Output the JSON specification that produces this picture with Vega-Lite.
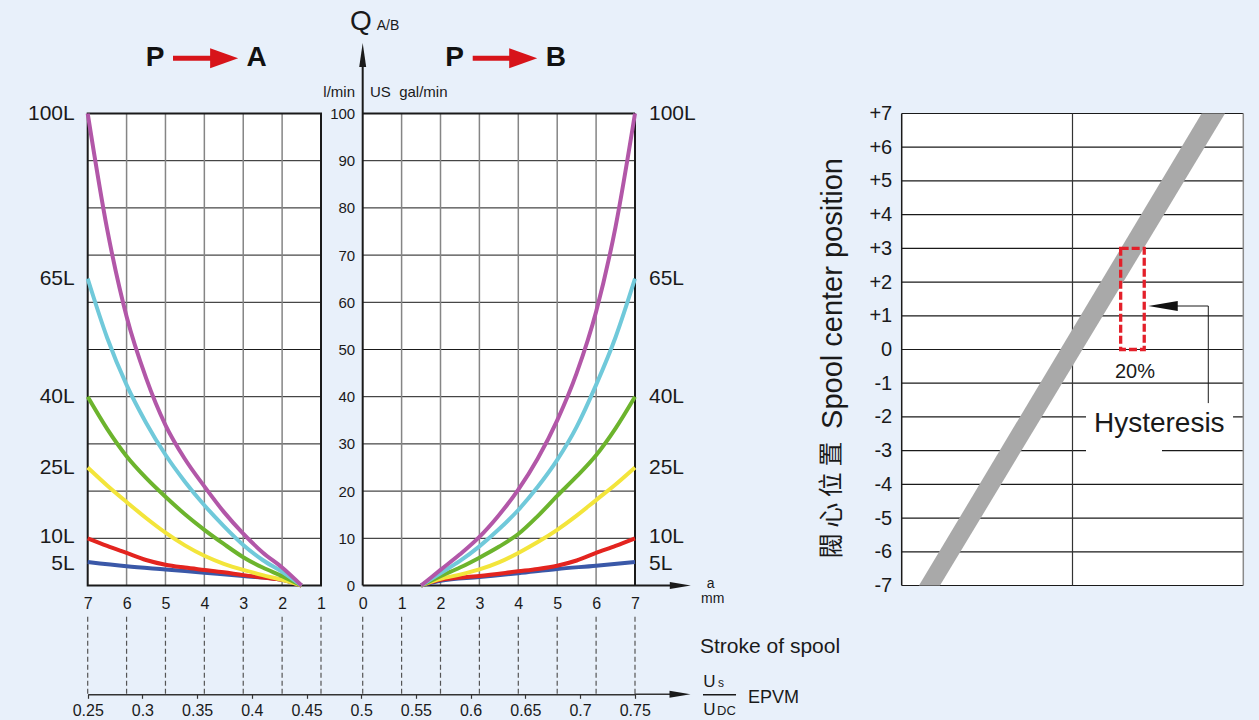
{
"$schema":"https://vega.github.io/schema/vega-lite/v6.json",
"width":1259,"height":720,"autosize":{"type":"none"},"padding":0,
"background":"#e8f0fa",
"config":{"view":{"stroke":null},"text":{"font":"Liberation Sans","color":"#1a1a1a"},"axis":{"labelFont":"Liberation Sans","labelColor":"#1a1a1a"}},
"datasets":{
"curves":[
{"side":"A","series":"5L","s":7,"q":5},{"side":"A","series":"5L","s":6,"q":4.1},{"side":"A","series":"5L","s":5,"q":3.4},{"side":"A","series":"5L","s":4,"q":2.7},{"side":"A","series":"5L","s":3,"q":2},{"side":"A","series":"5L","s":2,"q":1.2},{"side":"A","series":"5L","s":1.5,"q":0},
{"side":"B","series":"5L","s":1.5,"q":0},{"side":"B","series":"5L","s":2,"q":1},{"side":"B","series":"5L","s":3,"q":1.8},{"side":"B","series":"5L","s":4,"q":2.6},{"side":"B","series":"5L","s":5,"q":3.5},{"side":"B","series":"5L","s":6,"q":4.2},{"side":"B","series":"5L","s":7,"q":5},
{"side":"A","series":"10L","s":7,"q":10},{"side":"A","series":"10L","s":6.5,"q":8.4},{"side":"A","series":"10L","s":6,"q":6.9},{"side":"A","series":"10L","s":5.5,"q":5.4},{"side":"A","series":"10L","s":5,"q":4.4},{"side":"A","series":"10L","s":4.5,"q":3.8},{"side":"A","series":"10L","s":4,"q":3.3},{"side":"A","series":"10L","s":3.5,"q":2.8},{"side":"A","series":"10L","s":3,"q":2.2},{"side":"A","series":"10L","s":2.5,"q":1.7},{"side":"A","series":"10L","s":2,"q":1.2},{"side":"A","series":"10L","s":1.5,"q":0},
{"side":"B","series":"10L","s":1.5,"q":0},{"side":"B","series":"10L","s":2,"q":1.2},{"side":"B","series":"10L","s":3,"q":2},{"side":"B","series":"10L","s":4,"q":3},{"side":"B","series":"10L","s":4.5,"q":3.5},{"side":"B","series":"10L","s":5,"q":4.2},{"side":"B","series":"10L","s":5.5,"q":5.3},{"side":"B","series":"10L","s":6,"q":6.9},{"side":"B","series":"10L","s":6.5,"q":8.4},{"side":"B","series":"10L","s":7,"q":10},
{"side":"A","series":"25L","s":7,"q":25},{"side":"A","series":"25L","s":6.5,"q":21.2},{"side":"A","series":"25L","s":6,"q":17.7},{"side":"A","series":"25L","s":5.5,"q":14.3},{"side":"A","series":"25L","s":5,"q":11.2},{"side":"A","series":"25L","s":4.5,"q":8.5},{"side":"A","series":"25L","s":4,"q":6.3},{"side":"A","series":"25L","s":3.5,"q":4.6},{"side":"A","series":"25L","s":3,"q":3.3},{"side":"A","series":"25L","s":2.5,"q":2.2},{"side":"A","series":"25L","s":2,"q":1.2},{"side":"A","series":"25L","s":1.5,"q":0},
{"side":"B","series":"25L","s":1.5,"q":0},{"side":"B","series":"25L","s":2,"q":1.4},{"side":"B","series":"25L","s":2.5,"q":2.3},{"side":"B","series":"25L","s":3,"q":3.4},{"side":"B","series":"25L","s":3.5,"q":4.9},{"side":"B","series":"25L","s":4,"q":6.9},{"side":"B","series":"25L","s":4.5,"q":9.2},{"side":"B","series":"25L","s":5,"q":11.8},{"side":"B","series":"25L","s":5.5,"q":14.8},{"side":"B","series":"25L","s":6,"q":18.1},{"side":"B","series":"25L","s":6.5,"q":21.4},{"side":"B","series":"25L","s":7,"q":25},
{"side":"A","series":"40L","s":7,"q":40},{"side":"A","series":"40L","s":6.5,"q":33.2},{"side":"A","series":"40L","s":6,"q":27.4},{"side":"A","series":"40L","s":5.5,"q":22.8},{"side":"A","series":"40L","s":5,"q":18.8},{"side":"A","series":"40L","s":4.5,"q":15.1},{"side":"A","series":"40L","s":4,"q":11.8},{"side":"A","series":"40L","s":3.5,"q":8.8},{"side":"A","series":"40L","s":3,"q":6},{"side":"A","series":"40L","s":2.5,"q":3.8},{"side":"A","series":"40L","s":2,"q":2},{"side":"A","series":"40L","s":1.5,"q":0},
{"side":"B","series":"40L","s":1.5,"q":0},{"side":"B","series":"40L","s":2,"q":2},{"side":"B","series":"40L","s":2.5,"q":3.8},{"side":"B","series":"40L","s":3,"q":5.9},{"side":"B","series":"40L","s":3.5,"q":8.2},{"side":"B","series":"40L","s":4,"q":10.9},{"side":"B","series":"40L","s":4.5,"q":14.7},{"side":"B","series":"40L","s":5,"q":19},{"side":"B","series":"40L","s":5.5,"q":23.1},{"side":"B","series":"40L","s":6,"q":27.6},{"side":"B","series":"40L","s":6.5,"q":33.3},{"side":"B","series":"40L","s":7,"q":40},
{"side":"A","series":"65L","s":7,"q":65},{"side":"A","series":"65L","s":6.5,"q":52.5},{"side":"A","series":"65L","s":6,"q":42.5},{"side":"A","series":"65L","s":5.5,"q":34.5},{"side":"A","series":"65L","s":5,"q":27.7},{"side":"A","series":"65L","s":4.5,"q":22},{"side":"A","series":"65L","s":4,"q":17},{"side":"A","series":"65L","s":3.5,"q":12.6},{"side":"A","series":"65L","s":3,"q":8.6},{"side":"A","series":"65L","s":2.5,"q":5.4},{"side":"A","series":"65L","s":2,"q":2.9},{"side":"A","series":"65L","s":1.5,"q":0},
{"side":"B","series":"65L","s":1.5,"q":0},{"side":"B","series":"65L","s":2,"q":2.6},{"side":"B","series":"65L","s":2.5,"q":5.2},{"side":"B","series":"65L","s":3,"q":8.3},{"side":"B","series":"65L","s":3.5,"q":11.9},{"side":"B","series":"65L","s":4,"q":16},{"side":"B","series":"65L","s":4.5,"q":20.9},{"side":"B","series":"65L","s":5,"q":26.6},{"side":"B","series":"65L","s":5.5,"q":33.6},{"side":"B","series":"65L","s":6,"q":42.5},{"side":"B","series":"65L","s":6.5,"q":52.6},{"side":"B","series":"65L","s":7,"q":65},
{"side":"A","series":"100L","s":7,"q":100},{"side":"A","series":"100L","s":6.5,"q":75.5},{"side":"A","series":"100L","s":6,"q":57},{"side":"A","series":"100L","s":5.5,"q":44},{"side":"A","series":"100L","s":5,"q":34},{"side":"A","series":"100L","s":4.5,"q":26.8},{"side":"A","series":"100L","s":4,"q":21},{"side":"A","series":"100L","s":3.5,"q":15.6},{"side":"A","series":"100L","s":3,"q":11},{"side":"A","series":"100L","s":2.5,"q":7},{"side":"A","series":"100L","s":2,"q":3.8},{"side":"A","series":"100L","s":1.5,"q":0},
{"side":"B","series":"100L","s":1.5,"q":0},{"side":"B","series":"100L","s":2,"q":3.3},{"side":"B","series":"100L","s":2.5,"q":6.6},{"side":"B","series":"100L","s":3,"q":10.3},{"side":"B","series":"100L","s":3.5,"q":14.9},{"side":"B","series":"100L","s":4,"q":20.3},{"side":"B","series":"100L","s":4.5,"q":26.9},{"side":"B","series":"100L","s":5,"q":35},{"side":"B","series":"100L","s":5.5,"q":45},{"side":"B","series":"100L","s":6,"q":58},{"side":"B","series":"100L","s":6.5,"q":76},{"side":"B","series":"100L","s":7,"q":100}
],
"labels":[{"lab":"100L","q":100},{"lab":"65L","q":65},{"lab":"40L","q":40},{"lab":"25L","q":25},{"lab":"10L","q":10.2},{"lab":"5L","q":4.5}],
"hq":[{"q":10},{"q":20},{"q":30},{"q":40},{"q":50},{"q":60},{"q":70},{"q":80},{"q":90}]
},
"resolve":{"scale":{"x":"independent","y":"independent"}},
"layer":[
{"data":{"values":[{}]},"mark":{"type":"rect","fill":"#ffffff"},"encoding":{"x":{"datum":7,"type":"quantitative","scale":{"domain":[1,7],"range":[321,87.7],"nice":false,"zero":false},"axis":null},"x2":{"datum":1},"y":{"datum":0,"type":"quantitative","scale":{"domain":[0,100],"range":[585.5,113.5],"nice":false,"zero":false},"axis":null},"y2":{"datum":100}}},
{"data":{"name":"hq"},"mark":{"type":"rule","color":"#1a1a1a","strokeWidth":1},"encoding":{"x":{"datum":7,"type":"quantitative","scale":{"domain":[1,7],"range":[321,87.7],"nice":false,"zero":false},"axis":null},"x2":{"datum":1},"y":{"field":"q","type":"quantitative","scale":{"domain":[0,100],"range":[585.5,113.5],"nice":false,"zero":false},"axis":null}}},
{"data":{"values":[{"s":2},{"s":3},{"s":4},{"s":5},{"s":6}]},"mark":{"type":"rule","color":"#858585","strokeWidth":1.5},"encoding":{"x":{"field":"s","type":"quantitative","scale":{"domain":[1,7],"range":[321,87.7],"nice":false,"zero":false},"axis":null},"y":{"datum":0,"type":"quantitative","scale":{"domain":[0,100],"range":[585.5,113.5],"nice":false,"zero":false},"axis":null},"y2":{"datum":100}}},
{"data":{"values":[{}]},"mark":{"type":"rect","filled":false,"stroke":"#1a1a1a","strokeWidth":2},"encoding":{"x":{"datum":7,"type":"quantitative","scale":{"domain":[1,7],"range":[321,87.7],"nice":false,"zero":false},"axis":null},"x2":{"datum":1},"y":{"datum":0,"type":"quantitative","scale":{"domain":[0,100],"range":[585.5,113.5],"nice":false,"zero":false},"axis":null},"y2":{"datum":100}}},
{"data":{"name":"curves"},"transform":[{"filter":"datum.side === 'A'"}],"mark":{"type":"line","strokeWidth":4,"interpolate":"monotone"},"encoding":{"x":{"field":"s","type":"quantitative","scale":{"domain":[1,7],"range":[321,87.7],"nice":false,"zero":false},"axis":null},"y":{"field":"q","type":"quantitative","scale":{"domain":[0,100],"range":[585.5,113.5],"nice":false,"zero":false},"axis":null},"color":{"field":"series","type":"nominal","scale":{"domain":["5L","10L","25L","40L","65L","100L"],"range":["#3a58a8","#e3241f","#f3e53b","#6cb42d","#70c9da","#b257a8"]},"legend":null}}},
{"data":{"name":"labels"},"mark":{"type":"text","align":"right","baseline":"middle","dx":-13,"fontSize":21},"encoding":{"x":{"datum":7,"type":"quantitative","scale":{"domain":[1,7],"range":[321,87.7],"nice":false,"zero":false},"axis":null},"y":{"field":"q","type":"quantitative","scale":{"domain":[0,100],"range":[585.5,113.5],"nice":false,"zero":false},"axis":null},"text":{"field":"lab"}}},
{"data":{"values":[{"s":1},{"s":2},{"s":3},{"s":4},{"s":5},{"s":6},{"s":7}]},"mark":{"type":"rule","color":"#555555","strokeWidth":1.2,"strokeDash":[5,3]},"encoding":{"x":{"field":"s","type":"quantitative","scale":{"domain":[1,7],"range":[321,87.7],"nice":false,"zero":false},"axis":{"orient":"bottom","offset":-134.5,"values":[7,6,5,4,3,2,1],"domain":false,"ticks":false,"grid":false,"labelPadding":10,"labelFontSize":16,"labelFlush":false,"labelOverlap":false,"title":null}},"y":{"datum":-6.6,"type":"quantitative","scale":{"domain":[0,100],"range":[585.5,113.5],"nice":false,"zero":false},"axis":null},"y2":{"datum":-23.05}}},
{"data":{"values":[{}]},"mark":{"type":"text","text":"P","fontSize":28,"fontWeight":"bold","align":"center","baseline":"alphabetic","color":"#111111"},"encoding":{"x":{"datum":5.269,"type":"quantitative","scale":{"domain":[1,7],"range":[321,87.7],"nice":false,"zero":false},"axis":null},"y":{"datum":110.1,"type":"quantitative","scale":{"domain":[0,100],"range":[585.5,113.5],"nice":false,"zero":false},"axis":null}}},
{"data":{"values":[{}]},"mark":{"type":"text","text":"A","fontSize":28,"fontWeight":"bold","align":"center","baseline":"alphabetic","color":"#111111"},"encoding":{"x":{"datum":2.654,"type":"quantitative","scale":{"domain":[1,7],"range":[321,87.7],"nice":false,"zero":false},"axis":null},"y":{"datum":110.1,"type":"quantitative","scale":{"domain":[0,100],"range":[585.5,113.5],"nice":false,"zero":false},"axis":null}}},
{"data":{"values":[{}]},"mark":{"type":"rule","color":"#d7141a","strokeWidth":5},"encoding":{"x":{"datum":4.806,"type":"quantitative","scale":{"domain":[1,7],"range":[321,87.7],"nice":false,"zero":false},"axis":null},"x2":{"datum":3.726},"y":{"datum":111.7,"type":"quantitative","scale":{"domain":[0,100],"range":[585.5,113.5],"nice":false,"zero":false},"axis":null}}},
{"data":{"values":[{}]},"mark":{"type":"point","shape":"M-1,-0.714L1,0L-1,0.714Z","size":784,"filled":true,"color":"#d7141a","opacity":1,"strokeWidth":0},"encoding":{"x":{"datum":3.491,"type":"quantitative","scale":{"domain":[1,7],"range":[321,87.7],"nice":false,"zero":false},"axis":null},"y":{"datum":111.7,"type":"quantitative","scale":{"domain":[0,100],"range":[585.5,113.5],"nice":false,"zero":false},"axis":null}}},

{"data":{"values":[{}]},"mark":{"type":"rect","fill":"#ffffff"},"encoding":{"x":{"datum":0,"type":"quantitative","scale":{"domain":[0,7],"range":[362.7,635],"nice":false,"zero":false},"axis":null},"x2":{"datum":7},"y":{"datum":0,"type":"quantitative","scale":{"domain":[0,100],"range":[585.5,113.5],"nice":false,"zero":false},"axis":null},"y2":{"datum":100}}},
{"data":{"name":"hq"},"mark":{"type":"rule","color":"#1a1a1a","strokeWidth":1},"encoding":{"x":{"datum":0,"type":"quantitative","scale":{"domain":[0,7],"range":[362.7,635],"nice":false,"zero":false},"axis":null},"x2":{"datum":7},"y":{"field":"q","type":"quantitative","scale":{"domain":[0,100],"range":[585.5,113.5],"nice":false,"zero":false},"axis":{"orient":"left","offset":-362.7,"values":[0,10,20,30,40,50,60,70,80,90,100],"domain":false,"ticks":false,"grid":false,"labelPadding":8,"labelFontSize":15,"title":null}}}},
{"data":{"values":[{"s":1},{"s":2},{"s":3},{"s":4},{"s":5},{"s":6}]},"mark":{"type":"rule","color":"#858585","strokeWidth":1.5},"encoding":{"x":{"field":"s","type":"quantitative","scale":{"domain":[0,7],"range":[362.7,635],"nice":false,"zero":false},"axis":null},"y":{"datum":0,"type":"quantitative","scale":{"domain":[0,100],"range":[585.5,113.5],"nice":false,"zero":false},"axis":null},"y2":{"datum":100}}},
{"data":{"values":[{}]},"mark":{"type":"rule","color":"#1a1a1a","strokeWidth":2},"encoding":{"x":{"datum":0,"type":"quantitative","scale":{"domain":[0,7],"range":[362.7,635],"nice":false,"zero":false},"axis":null},"x2":{"datum":7},"y":{"datum":100,"type":"quantitative","scale":{"domain":[0,100],"range":[585.5,113.5],"nice":false,"zero":false},"axis":null}}},
{"data":{"values":[{}]},"mark":{"type":"rule","color":"#1a1a1a","strokeWidth":2},"encoding":{"x":{"datum":7,"type":"quantitative","scale":{"domain":[0,7],"range":[362.7,635],"nice":false,"zero":false},"axis":null},"y":{"datum":0,"type":"quantitative","scale":{"domain":[0,100],"range":[585.5,113.5],"nice":false,"zero":false},"axis":null},"y2":{"datum":100}}},
{"data":{"values":[{}]},"mark":{"type":"rule","color":"#1a1a1a","strokeWidth":2},"encoding":{"x":{"datum":0,"type":"quantitative","scale":{"domain":[0,7],"range":[362.7,635],"nice":false,"zero":false},"axis":null},"x2":{"datum":7.9},"y":{"datum":0,"type":"quantitative","scale":{"domain":[0,100],"range":[585.5,113.5],"nice":false,"zero":false},"axis":null}}},
{"data":{"values":[{}]},"mark":{"type":"rule","color":"#1a1a1a","strokeWidth":2},"encoding":{"x":{"datum":0,"type":"quantitative","scale":{"domain":[0,7],"range":[362.7,635],"nice":false,"zero":false},"axis":null},"y":{"datum":0,"type":"quantitative","scale":{"domain":[0,100],"range":[585.5,113.5],"nice":false,"zero":false},"axis":null},"y2":{"datum":110}}},
{"data":{"values":[{}]},"mark":{"type":"point","shape":"M-1,-0.33L1,0L-1,0.33Z","size":441,"filled":true,"color":"#1a1a1a","opacity":1,"strokeWidth":0},"encoding":{"x":{"datum":8.165,"type":"quantitative","scale":{"domain":[0,7],"range":[362.7,635],"nice":false,"zero":false},"axis":null},"y":{"datum":0,"type":"quantitative","scale":{"domain":[0,100],"range":[585.5,113.5],"nice":false,"zero":false},"axis":null}}},
{"data":{"values":[{}]},"mark":{"type":"point","shape":"M-0.29,1L0,-1L0.29,1Z","size":576,"filled":true,"color":"#1a1a1a","opacity":1,"strokeWidth":0},"encoding":{"x":{"datum":0,"type":"quantitative","scale":{"domain":[0,7],"range":[362.7,635],"nice":false,"zero":false},"axis":null},"y":{"datum":112.4,"type":"quantitative","scale":{"domain":[0,100],"range":[585.5,113.5],"nice":false,"zero":false},"axis":null}}},
{"data":{"name":"curves"},"transform":[{"filter":"datum.side === 'B'"}],"mark":{"type":"line","strokeWidth":4,"interpolate":"monotone"},"encoding":{"x":{"field":"s","type":"quantitative","scale":{"domain":[0,7],"range":[362.7,635],"nice":false,"zero":false},"axis":null},"y":{"field":"q","type":"quantitative","scale":{"domain":[0,100],"range":[585.5,113.5],"nice":false,"zero":false},"axis":null},"color":{"field":"series","type":"nominal","scale":{"domain":["5L","10L","25L","40L","65L","100L"],"range":["#3a58a8","#e3241f","#f3e53b","#6cb42d","#70c9da","#b257a8"]},"legend":null}}},
{"data":{"name":"labels"},"mark":{"type":"text","align":"left","baseline":"middle","dx":14,"fontSize":21},"encoding":{"x":{"datum":7,"type":"quantitative","scale":{"domain":[0,7],"range":[362.7,635],"nice":false,"zero":false},"axis":null},"y":{"field":"q","type":"quantitative","scale":{"domain":[0,100],"range":[585.5,113.5],"nice":false,"zero":false},"axis":null},"text":{"field":"lab"}}},
{"data":{"values":[{"s":0},{"s":1},{"s":2},{"s":3},{"s":4},{"s":5},{"s":6},{"s":7}]},"mark":{"type":"rule","color":"#555555","strokeWidth":1.2,"strokeDash":[5,3]},"encoding":{"x":{"field":"s","type":"quantitative","scale":{"domain":[0,7],"range":[362.7,635],"nice":false,"zero":false},"axis":{"orient":"bottom","offset":-134.5,"values":[0,1,2,3,4,5,6,7],"domain":false,"ticks":false,"grid":false,"labelPadding":10,"labelFontSize":16,"labelFlush":false,"labelOverlap":false,"title":null}},"y":{"datum":-6.6,"type":"quantitative","scale":{"domain":[0,100],"range":[585.5,113.5],"nice":false,"zero":false},"axis":null},"y2":{"datum":-23.05}}},
{"data":{"values":[{}]},"mark":{"type":"text","text":"P","fontSize":28,"fontWeight":"bold","align":"center","baseline":"alphabetic","color":"#111111"},"encoding":{"x":{"datum":2.365,"type":"quantitative","scale":{"domain":[0,7],"range":[362.7,635],"nice":false,"zero":false},"axis":null},"y":{"datum":110.1,"type":"quantitative","scale":{"domain":[0,100],"range":[585.5,113.5],"nice":false,"zero":false},"axis":null}}},
{"data":{"values":[{}]},"mark":{"type":"text","text":"B","fontSize":28,"fontWeight":"bold","align":"center","baseline":"alphabetic","color":"#111111"},"encoding":{"x":{"datum":4.964,"type":"quantitative","scale":{"domain":[0,7],"range":[362.7,635],"nice":false,"zero":false},"axis":null},"y":{"datum":110.1,"type":"quantitative","scale":{"domain":[0,100],"range":[585.5,113.5],"nice":false,"zero":false},"axis":null}}},
{"data":{"values":[{}]},"mark":{"type":"rule","color":"#d7141a","strokeWidth":5},"encoding":{"x":{"datum":2.828,"type":"quantitative","scale":{"domain":[0,7],"range":[362.7,635],"nice":false,"zero":false},"axis":null},"x2":{"datum":3.915},"y":{"datum":111.7,"type":"quantitative","scale":{"domain":[0,100],"range":[585.5,113.5],"nice":false,"zero":false},"axis":null}}},
{"data":{"values":[{}]},"mark":{"type":"point","shape":"M-1,-0.714L1,0L-1,0.714Z","size":784,"filled":true,"color":"#d7141a","opacity":1,"strokeWidth":0},"encoding":{"x":{"datum":4.126,"type":"quantitative","scale":{"domain":[0,7],"range":[362.7,635],"nice":false,"zero":false},"axis":null},"y":{"datum":111.7,"type":"quantitative","scale":{"domain":[0,100],"range":[585.5,113.5],"nice":false,"zero":false},"axis":null}}},
{"data":{"values":[{}]},"mark":{"type":"text","text":"Q","fontSize":28,"align":"center","baseline":"alphabetic"},"encoding":{"x":{"datum":-0.044,"type":"quantitative","scale":{"domain":[0,7],"range":[362.7,635],"nice":false,"zero":false},"axis":null},"y":{"datum":117.7,"type":"quantitative","scale":{"domain":[0,100],"range":[585.5,113.5],"nice":false,"zero":false},"axis":null}}},
{"data":{"values":[{}]},"mark":{"type":"text","text":"A/B","fontSize":14,"align":"left","baseline":"alphabetic"},"encoding":{"x":{"datum":0.36,"type":"quantitative","scale":{"domain":[0,7],"range":[362.7,635],"nice":false,"zero":false},"axis":null},"y":{"datum":117.7,"type":"quantitative","scale":{"domain":[0,100],"range":[585.5,113.5],"nice":false,"zero":false},"axis":null}}},
{"data":{"values":[{}]},"mark":{"type":"text","text":"l/min","fontSize":15,"align":"right","baseline":"alphabetic"},"encoding":{"x":{"datum":-0.198,"type":"quantitative","scale":{"domain":[0,7],"range":[362.7,635],"nice":false,"zero":false},"axis":null},"y":{"datum":103.6,"type":"quantitative","scale":{"domain":[0,100],"range":[585.5,113.5],"nice":false,"zero":false},"axis":null}}},
{"data":{"values":[{}]},"mark":{"type":"text","text":"US\u00a0\u00a0gal/min","fontSize":15,"align":"left","baseline":"alphabetic"},"encoding":{"x":{"datum":0.188,"type":"quantitative","scale":{"domain":[0,7],"range":[362.7,635],"nice":false,"zero":false},"axis":null},"y":{"datum":103.6,"type":"quantitative","scale":{"domain":[0,100],"range":[585.5,113.5],"nice":false,"zero":false},"axis":null}}},
{"data":{"values":[{}]},"mark":{"type":"text","text":"a","fontSize":14,"align":"center","baseline":"alphabetic"},"encoding":{"x":{"datum":8.946,"type":"quantitative","scale":{"domain":[0,7],"range":[362.7,635],"nice":false,"zero":false},"axis":null},"y":{"datum":-0.59,"type":"quantitative","scale":{"domain":[0,100],"range":[585.5,113.5],"nice":false,"zero":false},"axis":null}}},
{"data":{"values":[{}]},"mark":{"type":"text","text":"mm","fontSize":14,"align":"center","baseline":"alphabetic"},"encoding":{"x":{"datum":8.997,"type":"quantitative","scale":{"domain":[0,7],"range":[362.7,635],"nice":false,"zero":false},"axis":null},"y":{"datum":-3.77,"type":"quantitative","scale":{"domain":[0,100],"range":[585.5,113.5],"nice":false,"zero":false},"axis":null}}},
{"data":{"values":[{}]},"mark":{"type":"text","text":"Stroke of spool","fontSize":21,"align":"left","baseline":"alphabetic"},"encoding":{"x":{"datum":8.671,"type":"quantitative","scale":{"domain":[0,7],"range":[362.7,635],"nice":false,"zero":false},"axis":null},"y":{"datum":-14.36,"type":"quantitative","scale":{"domain":[0,100],"range":[585.5,113.5],"nice":false,"zero":false},"axis":null}}},
{"data":{"values":[{}]},"mark":{"type":"text","text":"U","fontSize":17,"align":"left","baseline":"alphabetic"},"encoding":{"x":{"datum":8.756,"type":"quantitative","scale":{"domain":[0,7],"range":[362.7,635],"nice":false,"zero":false},"axis":null},"y":{"datum":-21.44,"type":"quantitative","scale":{"domain":[0,100],"range":[585.5,113.5],"nice":false,"zero":false},"axis":null}}},
{"data":{"values":[{}]},"mark":{"type":"text","text":"s","fontSize":12,"align":"left","baseline":"alphabetic"},"encoding":{"x":{"datum":9.134,"type":"quantitative","scale":{"domain":[0,7],"range":[362.7,635],"nice":false,"zero":false},"axis":null},"y":{"datum":-21.5,"type":"quantitative","scale":{"domain":[0,100],"range":[585.5,113.5],"nice":false,"zero":false},"axis":null}}},
{"data":{"values":[{}]},"mark":{"type":"text","text":"U","fontSize":17,"align":"left","baseline":"alphabetic"},"encoding":{"x":{"datum":8.756,"type":"quantitative","scale":{"domain":[0,7],"range":[362.7,635],"nice":false,"zero":false},"axis":null},"y":{"datum":-27.44,"type":"quantitative","scale":{"domain":[0,100],"range":[585.5,113.5],"nice":false,"zero":false},"axis":null}}},
{"data":{"values":[{}]},"mark":{"type":"text","text":"DC","fontSize":13,"align":"left","baseline":"alphabetic"},"encoding":{"x":{"datum":9.108,"type":"quantitative","scale":{"domain":[0,7],"range":[362.7,635],"nice":false,"zero":false},"axis":null},"y":{"datum":-27.44,"type":"quantitative","scale":{"domain":[0,100],"range":[585.5,113.5],"nice":false,"zero":false},"axis":null}}},
{"data":{"values":[{}]},"mark":{"type":"rule","color":"#1a1a1a","strokeWidth":1.5},"encoding":{"x":{"datum":8.748,"type":"quantitative","scale":{"domain":[0,7],"range":[362.7,635],"nice":false,"zero":false},"axis":null},"x2":{"datum":9.597},"y":{"datum":-23.14,"type":"quantitative","scale":{"domain":[0,100],"range":[585.5,113.5],"nice":false,"zero":false},"axis":null}}},
{"data":{"values":[{}]},"mark":{"type":"text","text":"EPVM","fontSize":18,"align":"left","baseline":"alphabetic"},"encoding":{"x":{"datum":9.905,"type":"quantitative","scale":{"domain":[0,7],"range":[362.7,635],"nice":false,"zero":false},"axis":null},"y":{"datum":-24.96,"type":"quantitative","scale":{"domain":[0,100],"range":[585.5,113.5],"nice":false,"zero":false},"axis":null}}},

{"data":{"values":[{}]},"mark":{"type":"rule","color":"#333333","strokeWidth":1.5},"encoding":{"x":{"datum":0.75,"type":"quantitative","scale":{"domain":[0.25,0.75],"range":[87.7,634.7],"nice":false,"zero":false},"axis":{"orient":"bottom","offset":-25.7,"values":[0.25,0.3,0.35,0.4,0.45,0.5,0.55,0.6,0.65,0.7,0.75],"format":".2~f","domain":true,"domainColor":"#333333","domainWidth":1.5,"ticks":true,"tickSize":4,"tickColor":"#333333","tickWidth":1.2,"grid":false,"labelPadding":4,"labelFontSize":16,"labelFlush":false,"labelOverlap":false,"title":null}},"x2":{"datum":0.79},"y":{"datum":-23.05,"type":"quantitative","scale":{"domain":[0,100],"range":[585.5,113.5],"nice":false,"zero":false},"axis":null}}},
{"data":{"values":[{}]},"mark":{"type":"point","shape":"M-1,-0.33L1,0L-1,0.33Z","size":441,"filled":true,"color":"#1a1a1a","opacity":1,"strokeWidth":0},"encoding":{"x":{"datum":0.7914,"type":"quantitative","scale":{"domain":[0.25,0.75],"range":[87.7,634.7],"nice":false,"zero":false},"axis":null},"y":{"datum":-23.05,"type":"quantitative","scale":{"domain":[0,100],"range":[585.5,113.5],"nice":false,"zero":false},"axis":null}}},

{"data":{"values":[{}]},"mark":{"type":"rect","fill":"#ffffff"},"encoding":{"x":{"datum":-100,"type":"quantitative","scale":{"domain":[-100,100],"range":[901.7,1243.3],"nice":false,"zero":false},"axis":null},"x2":{"datum":100},"y":{"datum":-7,"type":"quantitative","scale":{"domain":[-7,7],"range":[585.5,113.5],"nice":false,"zero":false},"axis":null},"y2":{"datum":7}}},
{"data":{"values":[{"v":-7},{"v":-6},{"v":-5},{"v":-4},{"v":-3},{"v":-2},{"v":-1},{"v":0},{"v":1},{"v":2},{"v":3},{"v":4},{"v":5},{"v":6},{"v":7}]},"mark":{"type":"rule","color":"#1a1a1a","strokeWidth":1.2},"encoding":{"x":{"datum":-100,"type":"quantitative","scale":{"domain":[-100,100],"range":[901.7,1243.3],"nice":false,"zero":false},"axis":null},"x2":{"datum":100},"y":{"field":"v","type":"quantitative","scale":{"domain":[-7,7],"range":[585.5,113.5],"nice":false,"zero":false},"axis":{"orient":"left","offset":-901.7,"values":[-7,-6,-5,-4,-3,-2,-1,0,1,2,3,4,5,6,7],"labelExpr":"datum.value > 0 ? '+' + datum.value : '' + datum.value","domain":false,"ticks":false,"grid":false,"labelPadding":10,"labelFontSize":20,"title":null}}}},
{"data":{"values":[{}]},"mark":{"type":"rule","color":"#1a1a1a","strokeWidth":1.5},"encoding":{"x":{"datum":-100,"type":"quantitative","scale":{"domain":[-100,100],"range":[901.7,1243.3],"nice":false,"zero":false},"axis":null},"y":{"datum":-7,"type":"quantitative","scale":{"domain":[-7,7],"range":[585.5,113.5],"nice":false,"zero":false},"axis":null},"y2":{"datum":7}}},
{"data":{"values":[{}]},"mark":{"type":"rule","color":"#333333","strokeWidth":1.2},"encoding":{"x":{"datum":0,"type":"quantitative","scale":{"domain":[-100,100],"range":[901.7,1243.3],"nice":false,"zero":false},"axis":null},"y":{"datum":-7,"type":"quantitative","scale":{"domain":[-7,7],"range":[585.5,113.5],"nice":false,"zero":false},"axis":null},"y2":{"datum":7}}},
{"data":{"values":[{}]},"mark":{"type":"rule","color":"#8a8a8a","strokeWidth":1.5},"encoding":{"x":{"datum":100,"type":"quantitative","scale":{"domain":[-100,100],"range":[901.7,1243.3],"nice":false,"zero":false},"axis":null},"y":{"datum":-7,"type":"quantitative","scale":{"domain":[-7,7],"range":[585.5,113.5],"nice":false,"zero":false},"axis":null},"y2":{"datum":7}}},
{"data":{"values":[{"pos":-7,"lo":-89.9,"hi":-77.6},{"pos":7,"lo":75.6,"hi":89.3}]},"mark":{"type":"area","orient":"horizontal","color":"#a9a9a9","opacity":1},"encoding":{"y":{"field":"pos","type":"quantitative","scale":{"domain":[-7,7],"range":[585.5,113.5],"nice":false,"zero":false},"axis":null},"x":{"field":"lo","type":"quantitative","scale":{"domain":[-100,100],"range":[901.7,1243.3],"nice":false,"zero":false},"axis":null},"x2":{"field":"hi"}}},
{"data":{"values":[{}]},"mark":{"type":"rect","fill":"#ffffff"},"encoding":{"x":{"datum":7.9,"type":"quantitative","scale":{"domain":[-100,100],"range":[901.7,1243.3],"nice":false,"zero":false},"axis":null},"x2":{"datum":94},"y":{"datum":-1.6,"type":"quantitative","scale":{"domain":[-7,7],"range":[585.5,113.5],"nice":false,"zero":false},"axis":null},"y2":{"datum":-2.68}}},
{"data":{"values":[{}]},"mark":{"type":"rect","fill":"#ffffff"},"encoding":{"x":{"datum":7.9,"type":"quantitative","scale":{"domain":[-100,100],"range":[901.7,1243.3],"nice":false,"zero":false},"axis":null},"x2":{"datum":52.4},"y":{"datum":-2.6,"type":"quantitative","scale":{"domain":[-7,7],"range":[585.5,113.5],"nice":false,"zero":false},"axis":null},"y2":{"datum":-3.16}}},
{"data":{"values":[{}]},"mark":{"type":"rect","filled":false,"stroke":"#e3202a","strokeWidth":3.3,"strokeDash":[8,3]},"encoding":{"x":{"datum":28.2,"type":"quantitative","scale":{"domain":[-100,100],"range":[901.7,1243.3],"nice":false,"zero":false},"axis":null},"x2":{"datum":42},"y":{"datum":0,"type":"quantitative","scale":{"domain":[-7,7],"range":[585.5,113.5],"nice":false,"zero":false},"axis":null},"y2":{"datum":3}}},
{"data":{"values":[{}]},"mark":{"type":"rule","color":"#1a1a1a","strokeWidth":1},"encoding":{"x":{"datum":57,"type":"quantitative","scale":{"domain":[-100,100],"range":[901.7,1243.3],"nice":false,"zero":false},"axis":null},"x2":{"datum":79.5},"y":{"datum":1.29,"type":"quantitative","scale":{"domain":[-7,7],"range":[585.5,113.5],"nice":false,"zero":false},"axis":null}}},
{"data":{"values":[{}]},"mark":{"type":"rule","color":"#1a1a1a","strokeWidth":1},"encoding":{"x":{"datum":79.5,"type":"quantitative","scale":{"domain":[-100,100],"range":[901.7,1243.3],"nice":false,"zero":false},"axis":null},"y":{"datum":1.29,"type":"quantitative","scale":{"domain":[-7,7],"range":[585.5,113.5],"nice":false,"zero":false},"axis":null},"y2":{"datum":-1.59}}},
{"data":{"values":[{}]},"mark":{"type":"point","shape":"M1,-0.34L-1,0L1,0.34Z","size":864,"filled":true,"color":"#111111","opacity":1,"strokeWidth":0},"encoding":{"x":{"datum":53,"type":"quantitative","scale":{"domain":[-100,100],"range":[901.7,1243.3],"nice":false,"zero":false},"axis":null},"y":{"datum":1.29,"type":"quantitative","scale":{"domain":[-7,7],"range":[585.5,113.5],"nice":false,"zero":false},"axis":null}}},
{"data":{"values":[{}]},"mark":{"type":"text","text":"20%","fontSize":20,"align":"center","baseline":"alphabetic"},"encoding":{"x":{"datum":36.6,"type":"quantitative","scale":{"domain":[-100,100],"range":[901.7,1243.3],"nice":false,"zero":false},"axis":null},"y":{"datum":-0.854,"type":"quantitative","scale":{"domain":[-7,7],"range":[585.5,113.5],"nice":false,"zero":false},"axis":null}}},
{"data":{"values":[{}]},"mark":{"type":"text","text":"Hysteresis","fontSize":28,"align":"center","baseline":"alphabetic"},"encoding":{"x":{"datum":50.8,"type":"quantitative","scale":{"domain":[-100,100],"range":[901.7,1243.3],"nice":false,"zero":false},"axis":null},"y":{"datum":-2.44,"type":"quantitative","scale":{"domain":[-7,7],"range":[585.5,113.5],"nice":false,"zero":false},"axis":null}}},
{"data":{"values":[{}]},"mark":{"type":"text","text":"Spool center position","fontSize":29,"angle":270,"align":"center","baseline":"alphabetic"},"encoding":{"x":{"datum":-134.95,"type":"quantitative","scale":{"domain":[-100,100],"range":[901.7,1243.3],"nice":false,"zero":false},"axis":null},"y":{"datum":1.661,"type":"quantitative","scale":{"domain":[-7,7],"range":[585.5,113.5],"nice":false,"zero":false},"axis":null}}},
{"data":{"values":[{}]},"mark":{"type":"text","text":"閥 心 位 置","font":"Noto Sans CJK TC","fontSize":25,"angle":270,"align":"center","baseline":"alphabetic"},"encoding":{"x":{"datum":-136.1,"type":"quantitative","scale":{"domain":[-100,100],"range":[901.7,1243.3],"nice":false,"zero":false},"axis":null},"y":{"datum":-4.464,"type":"quantitative","scale":{"domain":[-7,7],"range":[585.5,113.5],"nice":false,"zero":false},"axis":null}}}
]
}
